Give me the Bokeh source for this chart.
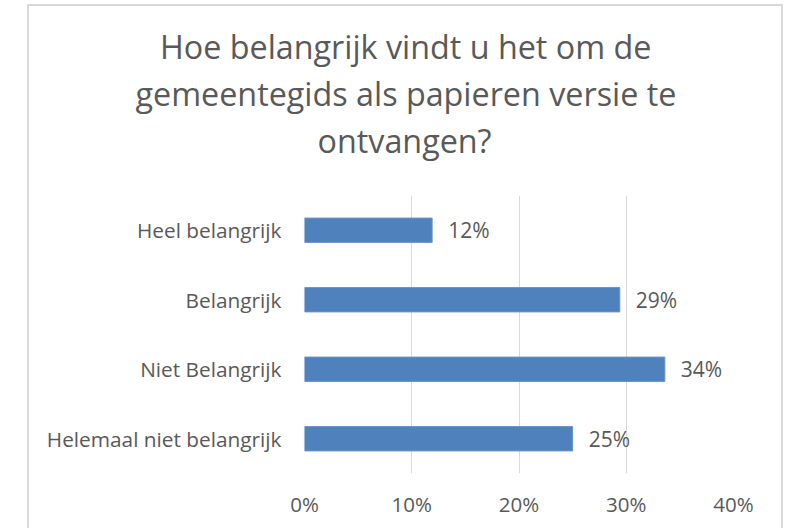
from bokeh.plotting import figure
from bokeh.models import (FactorRange, Range1d, FixedTicker, NumeralTickFormatter, Title,
                          ColumnDataSource)
from bokeh.core.properties import value
from bokeh.embed import file_html
from bokeh.resources import INLINE

categories = ["Heel belangrijk", "Belangrijk", "Niet Belangrijk", "Helemaal niet belangrijk"]
shares = [0.119, 0.294, 0.336, 0.250]
share_labels = ["12%", "29%", "34%", "25%"]
x_ticks = [0.0, 0.1, 0.2, 0.3, 0.4]
title_lines = ["Hoe belangrijk vindt u het om de", "gemeentegids als papieren versie te", "ontvangen?"]

FONT = "Open Sans"
GREY = "#595959"

src = ColumnDataSource(dict(cat=categories, val=shares, lab=share_labels))

p = figure(width=756, height=524, output_backend="svg", toolbar_location=None,
           y_range=FactorRange(*list(reversed(categories))),
           x_range=Range1d(0, 0.4),
           min_border_left=275, min_border_right=52, min_border_top=189, min_border_bottom=57)
p.styles = {"border-top": "2px solid #d9d9d9", "border-left": "2px solid #d9d9d9",
            "border-right": "2px solid #d9d9d9", "border-bottom": "none",
            "margin-left": "27px", "margin-top": "4px"}

# blank spacer between the title block and the plot area
p.add_layout(Title(text="\u00a0", text_font_size="2px", standoff=30, text_color="white"), "above")

# title lines (added bottom line first so that first line ends up on top)
offsets = [-144.5, -169, 13]
standoffs = [0, 2, 0]
for txt, off, so in reversed(list(zip(title_lines, offsets, standoffs))):
    p.add_layout(Title(text=txt, align="left", offset=off, standoff=so,
                       text_font=FONT, text_font_size="32.3px", text_font_style="normal",
                       text_color=GREY), "above")

p.hbar(y="cat", right="val", height=0.35, source=src,
       fill_color="#4f81bd", line_color="#6a93c9", line_width=1)

p.text(x="val", y="cat", text="lab", source=src, x_offset=16,
       text_font=value(FONT), text_font_size="21px", text_color=GREY,
       text_align="left", text_baseline="middle")

p.outline_line_color = None
p.background_fill_color = "white"
p.border_fill_color = "white"

p.xgrid.ticker = FixedTicker(ticks=x_ticks)
p.xgrid.grid_line_color = "#d9d9d9"
p.xgrid.grid_line_width = 1
p.ygrid.grid_line_color = None

xa = p.below[0]
xa.ticker = FixedTicker(ticks=x_ticks)
xa.formatter = NumeralTickFormatter(format="0%")
xa.axis_line_color = None
xa.major_tick_line_color = None
xa.minor_tick_line_color = None
xa.major_tick_out = 0
xa.major_tick_in = 0
xa.major_label_standoff = 16
xa.major_label_text_font = FONT
xa.major_label_text_font_size = "20.5px"
xa.major_label_text_color = GREY

ya = p.left[0]
ya.axis_line_color = None
ya.major_tick_line_color = None
ya.major_tick_out = 0
ya.major_tick_in = 0
ya.major_label_standoff = 23
ya.major_label_text_font = FONT
ya.major_label_text_font_size = "20.8px"
ya.major_label_text_color = GREY

open("out.html", "w").write(file_html(p, INLINE))
